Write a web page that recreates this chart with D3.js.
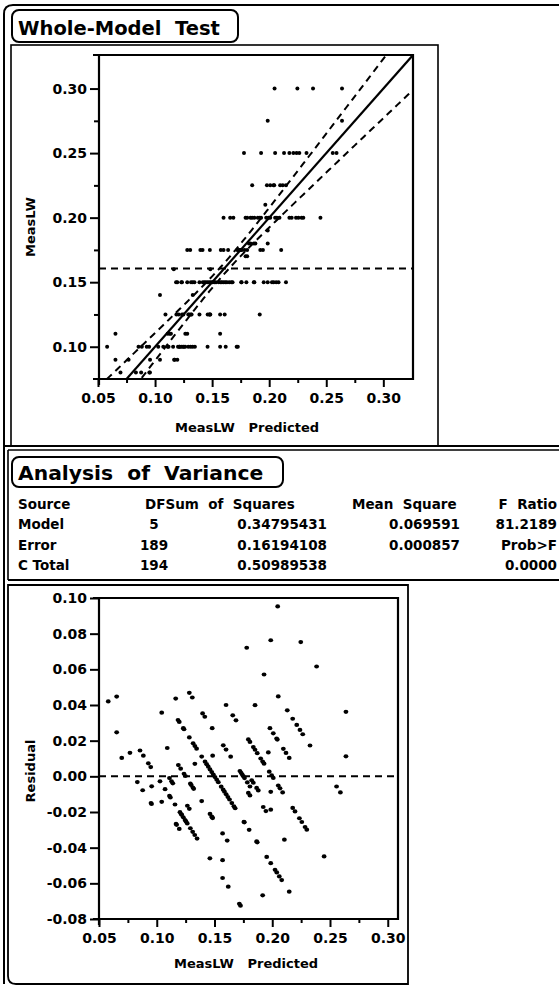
<!DOCTYPE html>
<html>
<head>
<meta charset="utf-8">
<script src="https://cdn.jsdelivr.net/npm/d3@7"></script>
<style>
  body { margin: 0; background: #fff; }
  svg text { font-family: "DejaVu Sans", "Liberation Sans", Arial, sans-serif; font-weight: bold; fill: #000; white-space: pre; }
</style>
</head>
<body>
<svg id="chart" width="559" height="987"></svg>
<script>
// Predicted MeasLW for the rows at each measured MeasLW level
const pred080 = [0.0697, 0.0832, 0.0878, 0.0950, 0.0955];
const pred090 = [0.0653, 0.0768, 0.0956, 0.1043, 0.1167, 0.1172, 0.1195];
const pred100 = [0.0580, 0.0855, 0.0884, 0.0927, 0.0948, 0.1028, 0.1072, 0.1110, 0.1118, 0.1158,
                 0.1201, 0.1213, 0.1216, 0.1230, 0.1245, 0.1253, 0.1264, 0.1291, 0.1311, 0.1329,
                 0.1349, 0.1460, 0.1570, 0.1619, 0.1715, 0.1725];
const pred110 = [0.0653, 0.1110, 0.1128, 0.1139, 0.1265, 0.1282, 0.1570];
const pred125 = [0.1091, 0.1187, 0.1207, 0.1236, 0.1248, 0.1291, 0.1299, 0.1313, 0.1320, 0.1389,
                 0.1461, 0.1476, 0.1480, 0.1484, 0.1570, 0.1610, 0.1917];
const pred140 = [0.1043, 0.1330];
const pred150 = [0.1184, 0.1195, 0.1230, 0.1236, 0.1282, 0.1315, 0.1330, 0.1345, 0.1389, 0.1418,
                 0.1432, 0.1446, 0.1461, 0.1476, 0.1490, 0.1504, 0.1519, 0.1533, 0.1558, 0.1575,
                 0.1586, 0.1601, 0.1616, 0.1630, 0.1650, 0.1668, 0.1679, 0.1755, 0.1758, 0.1800,
                 0.1865, 0.1870, 0.1952, 0.1987, 0.2024, 0.2039, 0.2061, 0.2082, 0.2147];
const pred160 = [0.1164, 0.1484];
const pred170 = [0.1793, 0.1807];
const pred175 = [0.1282, 0.1308, 0.1397, 0.1416, 0.1480, 0.1576, 0.1600, 0.1640, 0.1720, 0.1730,
                 0.1740, 0.1750, 0.1760, 0.1784, 0.1807, 0.1922, 0.1945, 0.2105];
const pred180 = [0.1822, 0.1836, 0.1865, 0.1879, 0.1987];
const pred190 = [0.1987];
const pred200 = [0.1600, 0.1658, 0.1686, 0.1793, 0.1807, 0.1836, 0.1851, 0.1870, 0.1900, 0.1917,
                 0.1929, 0.1974, 0.1995, 0.2009, 0.2052, 0.2067, 0.2090, 0.2177, 0.2197, 0.2235,
                 0.2256, 0.2284, 0.2299, 0.2449];
const pred210 = [0.1966];
const pred225 = [0.1851, 0.1980, 0.2009, 0.2038, 0.2044, 0.2096, 0.2119, 0.2147];
const pred250 = [0.1779, 0.1929, 0.2052, 0.2130, 0.2177, 0.2212, 0.2240, 0.2264, 0.2327, 0.2557, 0.2590];
const pred275 = [0.1987, 0.2638];
const pred300 = [0.2047, 0.2247, 0.2384, 0.2638];

const measLevels = [
  [0.080, pred080], [0.090, pred090], [0.100, pred100], [0.110, pred110], [0.125, pred125],
  [0.140, pred140], [0.150, pred150], [0.160, pred160], [0.170, pred170], [0.175, pred175],
  [0.180, pred180], [0.190, pred190], [0.200, pred200], [0.210, pred210], [0.225, pred225],
  [0.250, pred250], [0.275, pred275], [0.300, pred300]
];

// Fit summary: actual = predicted, mean of MeasLW, confidence band shape
const fitSlope = 1, fitIntercept = 0;
const meanLW = 0.1606;
const ciAtMean = 0.0042, ciSpread = 0.162;

// Axis ticks
const xTicks = [0.05, 0.10, 0.15, 0.20, 0.25, 0.30];
const xMinorTicks = [0.075, 0.125, 0.175, 0.225, 0.275];
const yTicksTop = [0.10, 0.15, 0.20, 0.25, 0.30];
const yMinorTop = [0.125, 0.175, 0.225, 0.275];
const yTicksResid = [0.10, 0.08, 0.06, 0.04, 0.02, 0.00, -0.02, -0.04, -0.06, -0.08];

// Analysis of Variance table
const anovaHeader = ["Source", "DF", "Sum  of  Squares", "Mean  Square", "F  Ratio"];
const anovaSource = ["Model", "Error", "C Total"];
const anovaDF = ["5", "189", "194"];
const anovaSS = ["0.34795431", "0.16194108", "0.50989538"];
const anovaMS = ["0.069591", "0.000857", ""];
const anovaF = ["81.2189", "Prob>F", "0.0000"];

const rows = [];
measLevels.forEach(([lw, preds]) => preds.forEach(p => rows.push({ pred: p, lw: lw, resid: lw - p })));

const svg = d3.select("#chart");
const fmt = d => d.toFixed(2);

// ---------- outlines ----------
const lines = svg.append("g").attr("fill", "none").attr("stroke", "#000");
lines.append("path").attr("d", "M4,984 L4,14 Q4,5 13,5 L559,5").attr("stroke-width", 2);
lines.append("rect").attr("x", 11).attr("y", 45).attr("width", 427).attr("height", 401).attr("stroke-width", 1.6);
lines.append("path").attr("d", "M4,446 L559,446").attr("stroke-width", 2);
lines.append("path").attr("d", "M8,450 L559,450 M8,450 L8,580").attr("stroke-width", 1.6);
lines.append("path").attr("d", "M8,580 L559,580").attr("stroke-width", 2);
lines.append("path").attr("d", "M8,585 L408,585 L408,984 L16,984 Q8,984 8,976 Z").attr("stroke-width", 1.8);

function titleBox(x, y, w, h, label, size) {
  svg.append("rect").attr("x", x).attr("y", y).attr("width", w).attr("height", h)
    .attr("rx", 7).attr("fill", "#fff").attr("stroke", "#000").attr("stroke-width", 2);
  svg.append("text").attr("x", x + 6).attr("y", y + h - 7).attr("font-size", size).text(label);
}
titleBox(12, 10, 226, 32, "Whole-Model  Test", 19.5);
titleBox(12, 457, 271, 30, "Analysis  of  Variance", 20.3);

// ---------- shared axis helpers ----------
function drawFrame(g, x0, y0, x1, y1) {
  g.append("path").attr("fill", "none").attr("stroke", "#000").attr("stroke-width", 2.2)
    .attr("d", `M${x0 - 6},${y0} L${x1},${y0} L${x1},${y1} L${x0 - 6},${y1} M${x0},${y0} L${x0},${y1 + 6}`);
}
function styleAxis(g, size) {
  g.select(".domain").remove();
  g.selectAll(".tick line").attr("stroke", "#000").attr("stroke-width", 2);
  g.selectAll(".tick text").attr("font-size", size).attr("font-family", "DejaVu Sans").attr("font-weight", "bold").attr("fill", "#000");
}

// ---------- Actual by Predicted plot ----------
const boxA = { x0: 99, x1: 413, y0: 55, y1: 379 };
const xTop = d3.scaleLinear().domain([0.05, 0.326]).range([boxA.x0 - 1, boxA.x1]);
const yTop = d3.scaleLinear().domain([0.075, 0.326]).range([boxA.y1, boxA.y0]);

const gTop = svg.append("g");
svg.append("clipPath").attr("id", "clipTop").append("rect")
  .attr("x", boxA.x0).attr("y", boxA.y0).attr("width", boxA.x1 - boxA.x0).attr("height", boxA.y1 - boxA.y0);

const plotTop = gTop.append("g").attr("clip-path", "url(#clipTop)");
plotTop.append("line").attr("x1", boxA.x0).attr("x2", boxA.x1)
  .attr("y1", yTop(meanLW)).attr("y2", yTop(meanLW))
  .attr("stroke", "#000").attr("stroke-width", 2).attr("stroke-dasharray", "7,5");

const xsFit = d3.range(0.05, 0.3275, 0.0025);
const half = x => Math.sqrt(ciAtMean * ciAtMean + ciSpread * ciSpread * (x - meanLW) * (x - meanLW));
const fitY = x => fitIntercept + fitSlope * x;
plotTop.append("path").attr("fill", "none").attr("stroke", "#000").attr("stroke-width", 2.2)
  .attr("d", d3.line().x(d => xTop(d)).y(d => yTop(fitY(d)))([0.05, 0.326]));
[1, -1].forEach(s => {
  plotTop.append("path").attr("fill", "none").attr("stroke", "#000").attr("stroke-width", 2)
    .attr("stroke-dasharray", "7,5")
    .attr("d", d3.line().x(d => xTop(d)).y(d => yTop(fitY(d) + s * half(d)))(xsFit));
});
plotTop.selectAll("circle.pt").data(rows).join("circle").attr("class", "pt")
  .attr("cx", d => xTop(d.pred)).attr("cy", d => yTop(d.lw)).attr("r", 2).attr("fill", "#000");

drawFrame(gTop, boxA.x0, boxA.y0, boxA.x1, boxA.y1);
styleAxis(gTop.append("g").attr("transform", `translate(${boxA.x0},0)`)
  .call(d3.axisLeft(yTop).tickValues(yTicksTop).tickFormat(fmt).tickSize(9).tickPadding(3)), 14);
styleAxis(gTop.append("g").attr("transform", `translate(${boxA.x0},0)`)
  .call(d3.axisLeft(yTop).tickValues(yMinorTop).tickFormat("").tickSize(5)), 14);
styleAxis(gTop.append("g").attr("transform", `translate(0,${boxA.y1})`)
  .call(d3.axisBottom(xTop).tickValues(xTicks).tickFormat(fmt).tickSize(8).tickPadding(6)), 14);
styleAxis(gTop.append("g").attr("transform", `translate(0,${boxA.y1})`)
  .call(d3.axisBottom(xTop).tickValues(xMinorTicks).tickFormat("").tickSize(4)), 14);
gTop.append("text").attr("x", 247).attr("y", 432).attr("text-anchor", "middle").attr("font-size", 13)
  .text("MeasLW   Predicted");
gTop.append("text").attr("transform", `translate(35,227) rotate(-90)`).attr("text-anchor", "middle")
  .attr("font-size", 13).text("MeasLW");

// ---------- Analysis of Variance table ----------
const tbl = svg.append("g").attr("font-size", 13.5);
const rowY = [529, 549.5, 570];
tbl.append("text").attr("x", 18).attr("y", 509).attr("font-size", 13.5).text(anovaHeader[0]);
tbl.append("text").attr("x", 145).attr("y", 509).attr("font-size", 13.5).text(anovaHeader[1] + anovaHeader[2]);
tbl.append("text").attr("x", 352).attr("y", 509).attr("font-size", 13.5).text(anovaHeader[3]);
tbl.append("text").attr("x", 557).attr("y", 509).attr("text-anchor", "end").attr("font-size", 13.5).text(anovaHeader[4]);
anovaSource.forEach((s, i) => {
  tbl.append("text").attr("x", 18).attr("y", rowY[i]).attr("font-size", 13.5).text(s);
  tbl.append("text").attr("x", 154).attr("y", rowY[i]).attr("text-anchor", "middle").attr("font-size", 13.5).text(anovaDF[i]);
  tbl.append("text").attr("x", 327).attr("y", rowY[i]).attr("text-anchor", "end").attr("font-size", 13.5).text(anovaSS[i]);
  tbl.append("text").attr("x", 460).attr("y", rowY[i]).attr("text-anchor", "end").attr("font-size", 13.5).text(anovaMS[i]);
  tbl.append("text").attr("x", 557).attr("y", rowY[i]).attr("text-anchor", "end").attr("font-size", 13.5).text(anovaF[i]);
});

// ---------- Residual by Predicted plot ----------
const boxB = { x0: 99, x1: 398, y0: 598, y1: 919 };
const xBot = d3.scaleLinear().domain([0.05, 0.05 + (boxB.x1 - boxB.x0) / 1155]).range([boxB.x0, boxB.x1]);
const yBot = d3.scaleLinear().domain([-0.08, 0.10]).range([boxB.y1, boxB.y0]);
const gBot = svg.append("g");
svg.append("clipPath").attr("id", "clipBot").append("rect")
  .attr("x", boxB.x0).attr("y", boxB.y0).attr("width", boxB.x1 - boxB.x0).attr("height", boxB.y1 - boxB.y0);
const plotBot = gBot.append("g").attr("clip-path", "url(#clipBot)");
plotBot.append("line").attr("x1", boxB.x0).attr("x2", boxB.x1).attr("y1", yBot(0)).attr("y2", yBot(0))
  .attr("stroke", "#000").attr("stroke-width", 2).attr("stroke-dasharray", "7,5");
plotBot.selectAll("ellipse.pt").data(rows).join("ellipse").attr("class", "pt")
  .attr("cx", d => xBot(d.pred)).attr("cy", d => yBot(d.resid)).attr("rx", 2.4).attr("ry", 2.1).attr("fill", "#000");

drawFrame(gBot, boxB.x0, boxB.y0, boxB.x1, boxB.y1);
styleAxis(gBot.append("g").attr("transform", `translate(${boxB.x0},0)`)
  .call(d3.axisLeft(yBot).tickValues(yTicksResid).tickFormat(fmt).tickSize(9).tickPadding(3)), 14);
styleAxis(gBot.append("g").attr("transform", `translate(0,${boxB.y1})`)
  .call(d3.axisBottom(xBot).tickValues(xTicks).tickFormat(fmt).tickSize(8).tickPadding(6)), 14);
styleAxis(gBot.append("g").attr("transform", `translate(0,${boxB.y1})`)
  .call(d3.axisBottom(xBot).tickValues(xMinorTicks).tickFormat("").tickSize(4)), 14);
gBot.append("text").attr("x", 246).attr("y", 968).attr("text-anchor", "middle").attr("font-size", 13)
  .text("MeasLW   Predicted");
gBot.append("text").attr("transform", `translate(35,771) rotate(-90)`).attr("text-anchor", "middle")
  .attr("font-size", 13).text("Residual");
</script>
</body>
</html>
